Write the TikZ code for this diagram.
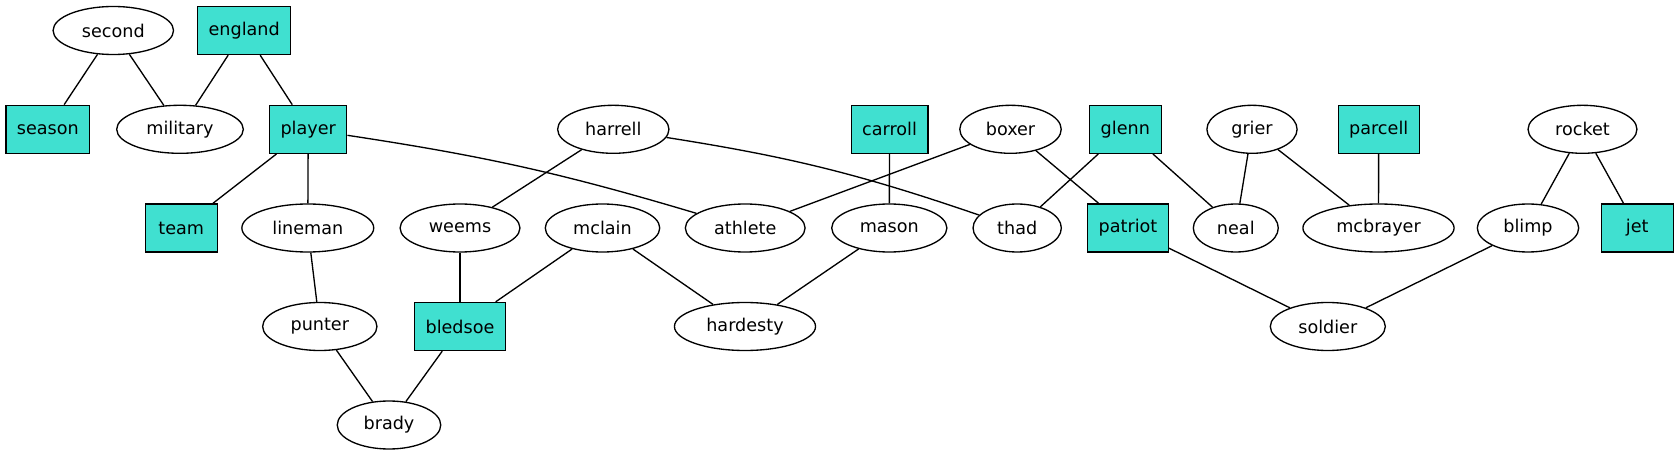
\documentclass[tikz,border=0pt]{standalone}
\usepackage{fontspec}
\setmainfont{DejaVu Sans}
\usetikzlibrary{shapes.geometric}
\definecolor{turq}{HTML}{40E0D0}
\begin{document}
\begin{tikzpicture}[x=0.75pt,y=-0.75pt,line width=1pt,
  word/.style={ellipse,draw,inner xsep=8.4pt,inner ysep=0pt,minimum height=36pt,minimum width=54pt,font=\fontsize{13.2pt}{16pt}\selectfont},
  tag/.style={rectangle,draw,fill=turq,inner xsep=8.2pt,inner ysep=0pt,minimum height=36pt,minimum width=54pt,font=\fontsize{13.2pt}{16pt}\selectfont}]
\useasboundingbox (0,0) rectangle (1679,456);
\node[word] (second) at (113.3,30.5) {second};
\node[tag] (england) at (244.2,30.5) {england};
\node[tag] (season) at (47.8,129.3) {season};
\node[word] (military) at (180,129.3) {military};
\node[tag] (player) at (308.2,129.3) {player};
\node[word] (harrell) at (613.3,129.3) {harrell};
\node[tag] (carroll) at (889.5,129.3) {carroll};
\node[word] (boxer) at (1010.5,129.3) {boxer};
\node[tag] (glenn) at (1125.3,129.3) {glenn};
\node[word] (grier) at (1252,129.3) {grier};
\node[tag] (parcell) at (1378.7,129.3) {parcell};
\node[word] (rocket) at (1582.5,129.3) {rocket};
\node[tag] (team) at (181.2,228) {team};
\node[word] (lineman) at (307.8,228) {lineman};
\node[word] (weems) at (460,228) {weems};
\node[word] (mclain) at (602.5,228) {mclain};
\node[word] (athlete) at (745.2,228) {athlete};
\node[word] (mason) at (889.3,228) {mason};
\node[word] (thad) at (1017.2,228) {thad};
\node[tag] (patriot) at (1128,228) {patriot};
\node[word] (neal) at (1235.8,228) {neal};
\node[word] (mcbrayer) at (1378.5,228) {mcbrayer};
\node[word] (blimp) at (1528,228) {blimp};
\node[tag] (jet) at (1637.2,228) {jet};
\node[word] (punter) at (319.8,326.5) {punter};
\node[tag] (bledsoe) at (460,326.5) {bledsoe};
\node[word] (hardesty) at (745,326.5) {hardesty};
\node[word] (soldier) at (1327.8,326.5) {soldier};
\node[word] (brady) at (389,425) {brady};
\path
  (second) edge (season)
  (second) edge (military)
  (england) edge (military)
  (england) edge (player)
  (player) edge (team)
  (player) edge (lineman)
  (player) edge [bend left=4] (athlete)
  (lineman) edge (punter)
  (punter) edge (brady)
  (bledsoe) edge (brady)
  (weems) edge (bledsoe)
  (mclain) edge (bledsoe)
  (harrell) edge (weems)
  (harrell) edge [bend left=5] (thad)
  (mclain) edge (hardesty)
  (mason) edge (hardesty)
  (carroll) edge (mason)
  (boxer) edge (athlete)
  (boxer) edge (patriot)
  (glenn) edge (thad)
  (glenn) edge (neal)
  (grier) edge (neal)
  (grier) edge (mcbrayer)
  (parcell) edge (mcbrayer)
  (patriot) edge (soldier)
  (blimp) edge (soldier)
  (rocket) edge (blimp)
  (rocket) edge (jet)
;
\end{tikzpicture}
\end{document}
